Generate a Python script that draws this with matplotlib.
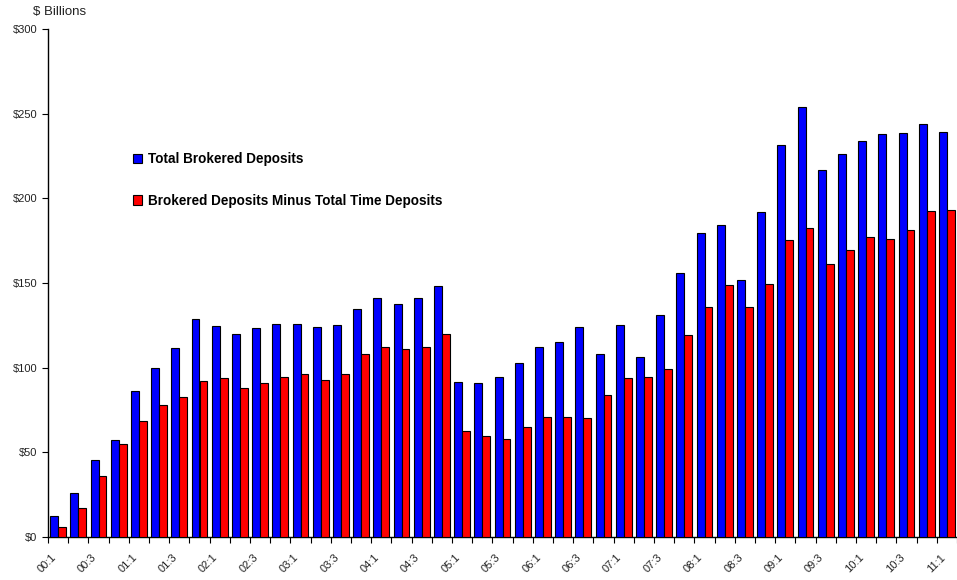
import matplotlib
matplotlib.use("Agg")
import matplotlib.pyplot as plt
import numpy as np

quarters = ["00:1", "00:2", "00:3", "00:4", "01:1", "01:2", "01:3", "01:4",
            "02:1", "02:2", "02:3", "02:4", "03:1", "03:2", "03:3", "03:4",
            "04:1", "04:2", "04:3", "04:4", "05:1", "05:2", "05:3", "05:4",
            "06:1", "06:2", "06:3", "06:4", "07:1", "07:2", "07:3", "07:4",
            "08:1", "08:2", "08:3", "08:4", "09:1", "09:2", "09:3", "09:4",
            "10:1", "10:2", "10:3", "10:4", "11:1"]

total_brokered = [12.6, 25.8, 45.7, 57.5, 86.0, 100.0, 111.4, 128.6,
                  124.4, 120.1, 123.4, 125.8, 125.8, 124.3, 125.4, 134.5,
                  141.1, 137.8, 141.0, 148.2, 91.5, 91.1, 94.5, 102.9,
                  112.2, 115.2, 124.2, 108.1, 125.1, 106.1, 131.3, 156.1,
                  179.7, 184.3, 152.0, 191.9, 231.3, 253.9, 216.7, 226.2,
                  233.9, 238.0, 238.4, 243.9, 239.4]

minus_time = [5.9, 17.1, 36.0, 54.7, 68.5, 78.1, 82.7, 92.3,
              93.9, 87.8, 91.1, 94.7, 96.1, 92.9, 96.1, 107.9,
              112.4, 111.2, 112.4, 119.9, 62.4, 59.6, 57.7, 64.8,
              71.1, 71.1, 70.1, 83.9, 93.7, 94.5, 99.4, 119.1,
              135.6, 149.0, 135.6, 149.4, 175.4, 182.5, 161.0, 169.5,
              177.0, 176.2, 181.3, 192.7, 193.3]

series_names = ["Total Brokered Deposits", "Brokered Deposits Minus Total Time Deposits"]
y_ticks = [0, 50, 100, 150, 200, 250, 300]

plt.rcParams['font.family'] = ['Liberation Sans', 'DejaVu Sans']

W, H = 957, 580
fig = plt.figure(figsize=(W / 100, H / 100), dpi=100)
ax = fig.add_axes([48 / W, 1 - 537 / H, (W - 48) / W, (537 - 29) / H])

x = np.arange(len(quarters))
bw = 0.39
b1 = ax.bar(x - bw / 2, total_brokered, width=bw, color="#0000FF",
            edgecolor="black", linewidth=0.8, label=series_names[0], zorder=3)
b2 = ax.bar(x + bw / 2, minus_time, width=bw, color="#FF0000",
            edgecolor="black", linewidth=0.8, label=series_names[1], zorder=3)

ax.set_xlim(-0.5, len(quarters) - 1 + 0.15)
ax.set_ylim(0, 300)

ax.set_yticks(y_ticks)
ax.set_yticklabels([f"${v}" for v in y_ticks], fontsize=8, color="#222222")
ax.tick_params(axis='y', direction='out', length=4.5, width=0.8, pad=3)

ax.set_xticks(x[::2])
ax.set_xticklabels(quarters[::2], rotation=45, ha='right', fontsize=8,
                   color="#222222")
ax.tick_params(axis='x', which='major', length=0, pad=11)
ax.set_xticks(np.arange(-0.5, len(quarters) + 0.5, 1.0), minor=True)
ax.tick_params(axis='x', which='minor', direction='out', length=4, width=0.8)

for s in ['top', 'right']:
    ax.spines[s].set_visible(False)
for s in ['left', 'bottom']:
    ax.spines[s].set_linewidth(1.0)
    ax.spines[s].set_color('black')

fig.text(60 / W, 1 - 12 / H, "$ Billions", ha='center', va='center',
         fontsize=9.5, color="#222222")

leg = fig.legend(handles=[b1, b2], labels=series_names, loc='upper left',
                 bbox_to_anchor=(133 / W, 1 - 152 / H), frameon=False,
                 prop={'weight': 'bold', 'size': 9.75}, handlelength=0.68,
                 handleheight=0.68, handletextpad=0.4, labelspacing=2.05,
                 borderpad=0, borderaxespad=0)

fig.savefig("out.png", dpi=100)
